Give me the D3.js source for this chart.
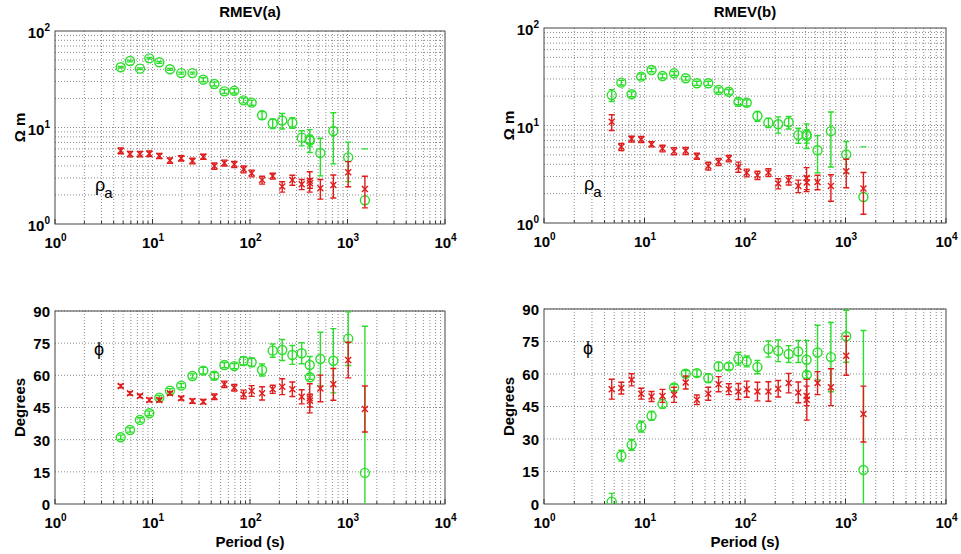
<!DOCTYPE html>
<html>
<head>
<meta charset="utf-8">
<script src="https://cdn.jsdelivr.net/npm/d3@7"></script>
<style>
  html, body { margin: 0; padding: 0; background: #fff; }
  svg text { font-family: "Liberation Sans", Arial, sans-serif; }
</style>
</head>
<body>
<svg id="chart" width="961" height="554"></svg>
<script>
// Sounding periods (s), shared by both sites
const periods = [4.72, 5.88, 7.44, 9.28, 11.75, 15.1, 19.7, 25.7, 33.2, 43.1, 54.6, 69, 86, 104,
                 133, 171, 214, 272, 339, 410, 412, 527, 716, 1017, 1508];

// Site RMEV(a): apparent resistivity (ohm m) and errors
const rhoA_green = [42.1, 48.9, 40.7, 52.1, 47.4, 40.1, 36.6, 36.6, 31.3, 28.2, 23.7, 24.0, 19.1, 18.1,
                    13.4, 11.0, 11.8, 11.2, 7.85, 7.5, 7.3, 5.45, 9.2, 4.9, 1.76];
const rhoA_greenErr = [0.8, 1.0, 0.8, 1.0, 1.0, 0.9, 0.9, 0.9, 1.5, 1.3, 1.1, 1.2, 1.1, 1.1,
                       1.25, 1.25, 2.15, 1.4, 1.4, 2.0, 1.0, 2.3, 5.0, 2.15, 4.24];
const rhoA_red = [5.75, 5.31, 5.31, 5.35, 5.07, 4.55, 4.8, 4.5, 4.98, 3.99, 4.29, 4.15, 3.69, 3.35,
                  2.86, 3.14, 2.44, 2.86, 2.58, 2.81, 2.65, 2.35, 2.54, 3.43, 2.3];
const rhoA_redErr = [0.4, 0.35, 0.35, 0.35, 0.3, 0.3, 0.3, 0.3, 0.3, 0.3, 0.3, 0.3, 0.3, 0.27,
                     0.27, 0.22, 0.3, 0.34, 0.31, 0.67, 0.3, 0.54, 0.68, 1.0, 0.83];

// Site RMEV(b): apparent resistivity (ohm m) and errors
const rhoB_green = [20.5, 27.5, 20.9, 31.7, 37.1, 32.2, 34.3, 30.5, 27.1, 27.1, 23.1, 22.2, 17.5, 17.1,
                    12.5, 10.7, 10.3, 10.8, 7.97, 8.1, 7.8, 5.58, 8.75, 5.05, 1.85];
const rhoB_greenErr = [2.85, 1.5, 1.2, 2.0, 1.5, 1.5, 1.5, 1.3, 1.3, 1.3, 1.2, 1.2, 1.2, 1.2,
                       1.45, 1.2, 1.95, 1.6, 1.4, 2.3, 1.2, 2.3, 5.0, 1.8, 4.19];
const rhoB_red = [10.9, 6.04, 7.25, 7.2, 6.44, 5.82, 5.46, 5.5, 4.85, 3.85, 4.24, 4.59, 3.76, 3.27,
                  3.09, 3.3, 2.54, 2.75, 2.4, 2.9, 2.6, 2.64, 2.4, 3.4, 2.26];
const rhoB_redErr = [2.0, 0.5, 0.5, 0.5, 0.4, 0.45, 0.45, 0.45, 0.35, 0.35, 0.35, 0.35, 0.45, 0.3,
                     0.3, 0.3, 0.3, 0.3, 0.35, 0.8, 0.4, 0.45, 0.73, 1.1, 1.03];

// Site RMEV(a): phase (degrees) and errors
const phiA_green = [31.1, 34.5, 39.2, 42.3, 49.6, 52.8, 55.2, 59.7, 62.2, 59.8, 64.8, 64.3, 66.7, 66.1,
                    62.5, 71.5, 71.8, 69.5, 70.3, 64.8, 59.1, 67.6, 66.8, 77.1, 14.5];
const phiA_greenErr = [1.0, 1.0, 1.0, 1.0, 1.0, 1.0, 1.0, 1.0, 1.5, 1.5, 1.2, 1.2, 2.0, 2.0,
                       2.8, 3.1, 4.9, 4.4, 4.9, 4.0, 1.0, 12.5, 15.0, 12.5, 68.4];
const phiA_red = [55.0, 51.6, 50.4, 48.5, 48.5, 51.6, 49.3, 48.0, 47.7, 50.0, 55.8, 54.2, 51.1, 52.7,
                  51.6, 53.5, 54.7, 53.5, 50.0, 49.3, 48.2, 53.9, 55.8, 67.1, 44.3];
const phiA_redErr = [0.8, 0.8, 0.8, 0.8, 0.8, 0.8, 0.8, 1.0, 1.0, 1.3, 1.5, 1.5, 2.0, 2.5,
                     3.1, 1.9, 3.7, 3.4, 3.3, 6.8, 3.0, 6.2, 7.4, 8.3, 10.7];

// Site RMEV(b): phase (degrees) and errors
const phiB_green = [1.1, 22.3, 27.3, 35.7, 40.7, 46.2, 53.8, 60.1, 60.4, 58.1, 63.5, 63.5, 67.0, 65.8,
                    63.2, 71.5, 70.7, 69.2, 70.4, 66.6, 59.6, 69.9, 67.8, 77.4, 15.7];
const phiB_greenErr = [3.8, 2.5, 2.5, 2.5, 2.0, 2.0, 1.5, 1.5, 1.5, 2.0, 2.0, 1.5, 2.9, 2.5,
                       3.1, 3.7, 5.0, 3.9, 5.1, 8.9, 1.5, 12.6, 16.0, 12.0, 64.4];
const phiB_red = [53.0, 53.5, 57.3, 50.9, 49.6, 49.9, 50.4, 56.1, 48.1, 50.9, 55.3, 53.0, 51.9, 53.0,
                  51.9, 51.9, 53.2, 55.8, 51.5, 49.9, 48.1, 55.8, 53.9, 68.4, 41.5];
const phiB_redErr = [4.6, 2.7, 2.8, 2.5, 2.3, 3.0, 3.5, 3.0, 2.2, 3.0, 3.5, 2.5, 3.7, 3.7,
                     4.3, 4.5, 3.8, 4.5, 4.8, 4.5, 9.4, 5.3, 8.5, 9.0, 12.9];

// Axis ticks
const periodTicks = [1, 10, 100, 1000, 10000];
const rhoTicks = [1, 10, 100];
const phaseTicks = [0, 15, 30, 45, 60, 75, 90];

const GREEN = "#2ade2a";
const RED = "#e01c1c";

const svg = d3.select("#chart");
const defs = svg.append("defs");

function expLabel(sel) {
  sel.each(function (d) {
    const t = d3.select(this);
    const e = Math.round(Math.log10(d));
    t.text(null);
    t.append("tspan").text("10");
    t.append("tspan").attr("dy", -7).attr("font-size", 10).text(e);
  });
}

function drawPanel(p, idx) {
  const g = svg.append("g");
  const x = d3.scaleLog().domain([1, 1e4]).range([p.x0, p.x1]);
  const y = p.log
    ? d3.scaleLog().domain([1, 100]).range([p.yBot, p.yTop])
    : d3.scaleLinear().domain([0, 90]).range([p.yBot, p.yTop]);

  // dotted grid
  const xGrid = [];
  for (let d = 0; d < 4; d++) for (let k = 1; k < 10; k++) xGrid.push(k * Math.pow(10, d));
  const yGrid = [];
  if (p.log) { for (let d = 0; d < 2; d++) for (let k = 1; k < 10; k++) yGrid.push(k * Math.pow(10, d)); }
  else phaseTicks.forEach(v => yGrid.push(v));

  g.append("g").selectAll("line").data(xGrid.filter(v => v > 1)).join("line")
    .attr("x1", d => x(d)).attr("x2", d => x(d))
    .attr("y1", p.yTop).attr("y2", p.yBot)
    .attr("stroke", "#8a8a8a").attr("stroke-width", 1).attr("stroke-dasharray", "1,2");
  g.append("g").selectAll("line").data(yGrid.filter(v => v > (p.log ? 1 : 0))).join("line")
    .attr("x1", p.x0).attr("x2", p.x1)
    .attr("y1", d => y(d)).attr("y2", d => y(d))
    .attr("stroke", "#8a8a8a").attr("stroke-width", 1).attr("stroke-dasharray", "1,2");

  // axes with labels
  const xAxis = d3.axisBottom(x).tickValues(periodTicks).tickSize(0).tickPadding(0);
  const xa = g.append("g").attr("transform", `translate(0,${p.yBot})`).call(xAxis);
  xa.select(".domain").remove();
  xa.selectAll("text").attr("font-size", 15).attr("font-weight", "bold").attr("fill", "#000")
    .attr("dy", null).attr("y", 24).call(expLabel);

  const yAxis = d3.axisLeft(y).tickValues(p.log ? rhoTicks : phaseTicks).tickSize(0).tickPadding(5);
  const ya = g.append("g").attr("transform", `translate(${p.x0},0)`).call(yAxis);
  ya.select(".domain").remove();
  ya.selectAll("text").attr("font-size", 15).attr("font-weight", "bold").attr("fill", "#000")
    .attr("dy", "0.36em");
  if (p.log) ya.selectAll("text").attr("dy", "0.45em").call(expLabel);

  // inner tick marks
  const minorX = xGrid.filter(v => !periodTicks.includes(v));
  g.append("g").selectAll("line").data(minorX).join("line")
    .attr("x1", d => x(d)).attr("x2", d => x(d)).attr("y1", p.yBot).attr("y2", p.yBot - 3)
    .attr("stroke", "#333");
  g.append("g").selectAll("line").data(periodTicks).join("line")
    .attr("x1", d => x(d)).attr("x2", d => x(d)).attr("y1", p.yBot).attr("y2", p.yBot - 5)
    .attr("stroke", "#333");

  // frame
  g.append("rect").attr("x", p.x0).attr("y", p.yTop)
    .attr("width", p.x1 - p.x0).attr("height", p.yBot - p.yTop)
    .attr("fill", "none").attr("stroke", "#444").attr("stroke-width", 1);

  // data clipped to the axes box
  const clipId = "clip" + idx;
  defs.append("clipPath").attr("id", clipId).append("rect")
    .attr("x", p.x0).attr("y", p.yTop - 0.5).attr("width", p.x1 - p.x0).attr("height", p.yBot - p.yTop + 0.5);
  const dg = g.append("g").attr("clip-path", `url(#${clipId})`);

  function series(vals, errs, color, marker) {
    const s = dg.append("g").attr("stroke", color).attr("stroke-width", 1.4).attr("fill", "none");
    periods.forEach((t, i) => {
      const v = vals[i], e = errs[i];
      const lo = v - e, hi = v + e;
      const px = x(t);
      const yh = y(hi);
      // on log axes a bar reaching below zero keeps only its upper cap
      const drawLo = !p.log || lo > 0;
      if (drawLo) {
        const yl = y(lo);
        s.append("line").attr("x1", px).attr("x2", px).attr("y1", yl).attr("y2", yh);
        s.append("line").attr("x1", px - 3).attr("x2", px + 3).attr("y1", yl).attr("y2", yl);
      }
      s.append("line").attr("x1", px - 3).attr("x2", px + 3).attr("y1", yh).attr("y2", yh);
      const py = y(v);
      if (marker === "o") {
        s.append("circle").attr("cx", px).attr("cy", py).attr("r", 4.5);
      } else {
        s.append("path").attr("d", `M${px - 3},${py - 3}L${px + 3},${py + 3}M${px - 3},${py + 3}L${px + 3},${py - 3}`);
      }
    });
  }
  series(p.green, p.greenErr, GREEN, "o");
  series(p.red, p.redErr, RED, "x");

  // titles and axis names
  const cx = (p.x0 + p.x1) / 2;
  const cy = (p.yTop + p.yBot) / 2;
  if (p.title) {
    g.append("text").attr("x", cx).attr("y", 17).attr("text-anchor", "middle")
      .attr("font-size", 15).attr("font-weight", "bold").text(p.title);
  }
  if (p.xlabel) {
    g.append("text").attr("x", cx).attr("y", p.yBot + 43).attr("text-anchor", "middle")
      .attr("font-size", 15).attr("font-weight", "bold").text(p.xlabel);
  }
  g.append("text").attr("transform", `translate(${p.x0 - 30},${cy}) rotate(-90)`)
    .attr("text-anchor", "middle").attr("font-size", 15).attr("font-weight", "bold").text(p.ylabel);

  // quantity symbol inside the axes
  if (p.log) {
    const t = g.append("text").attr("x", p.x0 + 40).attr("y", p.yBot - 33)
      .attr("font-family", "DejaVu Sans").attr("font-size", 18);
    t.append("tspan").text("ρ");
    t.append("tspan").attr("font-size", 15).attr("dy", 7).attr("dx", -1).text("a");
  } else {
    g.append("text").attr("x", p.x0 + 44).attr("y", cy - 53).attr("text-anchor", "middle")
      .attr("font-family", "DejaVu Sans").attr("font-size", 18).text("ϕ");
  }
}

const panels = [
  { x0: 55, x1: 445, yTop: 31, yBot: 224, log: true, title: "RMEV(a)", ylabel: "Ω m",
    green: rhoA_green, greenErr: rhoA_greenErr, red: rhoA_red, redErr: rhoA_redErr },
  { x0: 544, x1: 946, yTop: 28, yBot: 223, log: true, title: "RMEV(b)", ylabel: "Ω m",
    green: rhoB_green, greenErr: rhoB_greenErr, red: rhoB_red, redErr: rhoB_redErr },
  { x0: 55, x1: 445, yTop: 311, yBot: 504, log: false, xlabel: "Period (s)", ylabel: "Degrees",
    green: phiA_green, greenErr: phiA_greenErr, red: phiA_red, redErr: phiA_redErr },
  { x0: 544, x1: 946, yTop: 309, yBot: 504, log: false, xlabel: "Period (s)", ylabel: "Degrees",
    green: phiB_green, greenErr: phiB_greenErr, red: phiB_red, redErr: phiB_redErr }
];
panels.forEach(drawPanel);
</script>
</body>
</html>
